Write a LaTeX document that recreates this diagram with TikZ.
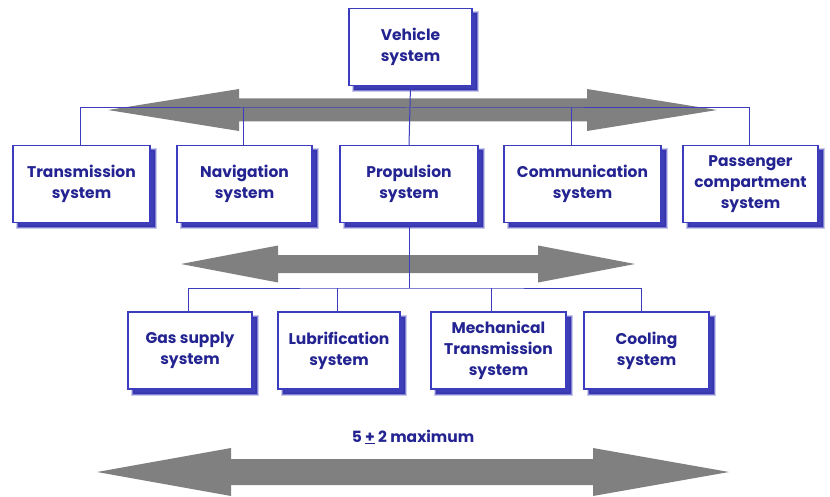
\documentclass[tikz,border=0pt]{standalone}
\usepackage{fontspec}
\setmainfont{Poppins}
\usetikzlibrary{positioning}

\definecolor{navytext}{RGB}{35,35,145}
\definecolor{boxline}{RGB}{60,60,190}
\definecolor{boxshadow}{RGB}{45,45,175}
\definecolor{arrowgray}{RGB}{128,128,128}

\tikzset{
  boxshade/.style={
    preaction={fill=boxshadow, draw=boxshadow, line width=4pt, opacity=0.25,
      transform canvas={xshift=5pt, yshift=-5pt}},
    preaction={fill=boxshadow, draw=boxshadow, line width=2pt, opacity=0.45,
      transform canvas={xshift=5pt, yshift=-5pt}},
    preaction={fill=boxshadow, opacity=0.8,
      transform canvas={xshift=5pt, yshift=-5pt}}},
  sysbox/.style={boxshade, draw=boxline, fill=white, line width=1.1pt, align=center,
    text=navytext, font=\bfseries\fontsize{15.5}{21}\selectfont, inner sep=2pt},
  link/.style={draw=boxline, line width=1pt},
  bigarrow/.style={fill=arrowgray}
}

\begin{document}
\begin{tikzpicture}[x=1pt, y=-1pt]
  \useasboundingbox[fill=white] (0,0) rectangle (830,497);

  % spread arrows
  \fill[bigarrow] (108,110) -- (239,89) -- (239,98.5) -- (587,98.5) -- (587,89)
    -- (717,110) -- (587,131) -- (587,121.5) -- (239,121.5) -- (239,131) -- cycle;
  \fill[bigarrow] (181,264) -- (278,245.5) -- (278,255) -- (538,255) -- (538,245.5)
    -- (635,264) -- (538,282.5) -- (538,273) -- (278,273) -- (278,282.5) -- cycle;
  \fill[bigarrow] (97,472) -- (231,448) -- (231,459) -- (593,459) -- (593,448)
    -- (729,472) -- (593,496) -- (593,485) -- (231,485) -- (231,496) -- cycle;

  % systems
  \node (vehicle) [sysbox, minimum width=123pt, minimum height=77pt] at (410.5,47) {Vehicle\\system};

  \node (trans) [sysbox, minimum width=137pt, minimum height=77pt] at (81.5,184) {Transmission\\system};
  \node (nav)   [sysbox, minimum width=135pt, minimum height=77pt] at (244.5,184) {Navigation\\system};
  \node (prop)  [sysbox, minimum width=138pt, minimum height=77pt] at (409,184) {Propulsion\\system};
  \node (comm)  [sysbox, minimum width=157pt, minimum height=77pt] at (582.5,184) {Communication\\system};
  \node (pass)  [sysbox, minimum width=135pt, minimum height=77pt] at (750.5,184) {Passenger\\compartment\\system};

  \node (gas)  [sysbox, minimum width=124pt, minimum height=77pt] at (190,350.5) {Gas supply\\system};
  \node (lub)  [sysbox, minimum width=122pt, minimum height=77pt] at (339,350.5) {Lubrification\\system};
  \node (mech) [sysbox, minimum width=135pt, minimum height=77pt] at (498.5,350.5) {Mechanical\\Transmission\\system};
  \node (cool) [sysbox, minimum width=125pt, minimum height=77pt] at (646.5,350.5) {Cooling\\system};

  \node (rule) [text=navytext, font=\bfseries\fontsize{15.5}{21}\selectfont] at (413,437) {5 \underline{+} 2 maximum};

  \coordinate (busA) at (409,108);
  \coordinate (busB) at (409,288);

  \draw[link] (vehicle.south) -- (prop.north);
  \draw[link] ([xshift=-1.5pt]trans.north) |- (busA) -| ([xshift=-1.5pt]pass.north);
  \draw[link] ([xshift=-1.5pt]nav.north) -- ([xshift=-1.5pt]nav.north |- busA);
  \draw[link] ([xshift=-11.5pt]comm.north) -- ([xshift=-11.5pt]comm.north |- busA);

  \draw[link] (prop.south) -- (busB);
  \draw[link] ([xshift=-2pt]gas.north) |- (busB) -| ([xshift=-5pt]cool.north);
  \draw[link] ([xshift=-2pt]lub.north) -- ([xshift=-2pt]lub.north |- busB);
  \draw[link] ([xshift=-7pt]mech.north) -- ([xshift=-7pt]mech.north |- busB);

\end{tikzpicture}
\end{document}
